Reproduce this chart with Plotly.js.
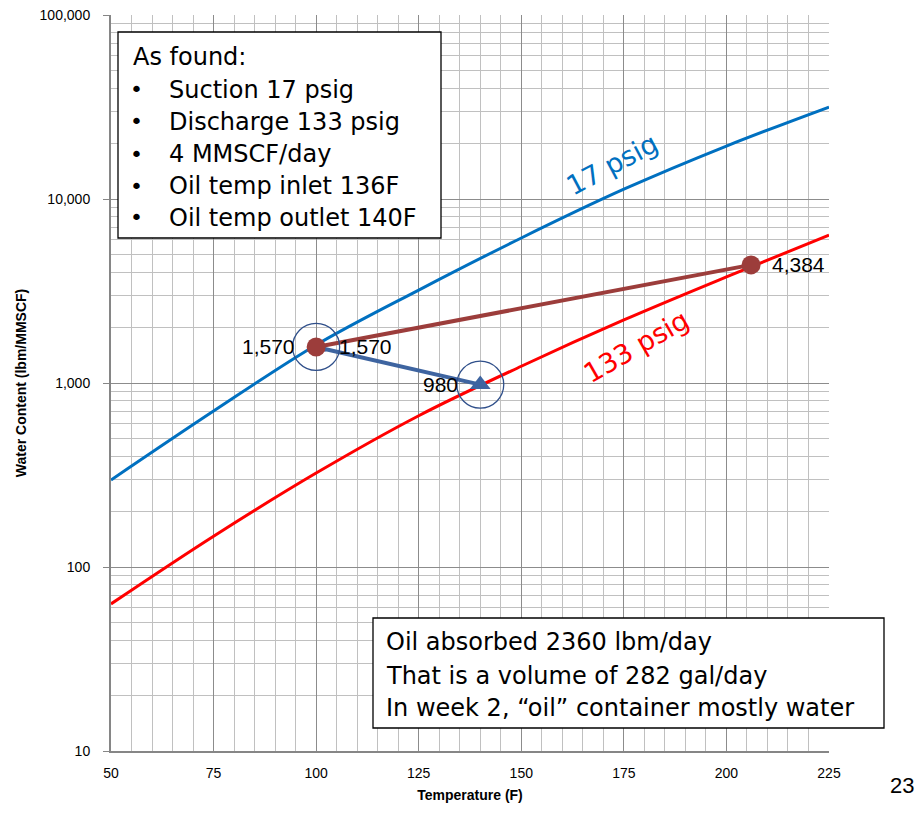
<!DOCTYPE html>
<html>
<head>
<meta charset="utf-8">
<script src="https://cdn.plot.ly/plotly-3.0.1.min.js"></script>
<style>html,body{margin:0;padding:0;background:#fff;}#chart{width:921px;height:813px;}</style>
</head>
<body>
<div id="chart"></div>
<script>
// ---- data ----
const temps = [50, 75, 100, 125, 150, 175, 200, 225];
const water17psig = [297, 704, 1610, 3200, 6140, 11300, 19400, 31600];
const water133psig = [63, 147, 324, 664, 1233, 2200, 3770, 6370];
const gasX = [100, 206];
const gasY = [1570, 4384];
const gasLabels = ['1,570', '4,384'];
const oilX = [100, 140];
const oilY = [1570, 980];
const oilLabels = ['1,570', '980'];
const box1Lines = ['As found:', 'Suction 17 psig', 'Discharge 133 psig', '4 MMSCF/day', 'Oil temp inlet 136F', 'Oil temp outlet 140F'];
const box2Lines = ['Oil absorbed 2360 lbm/day', 'That is a volume of 282 gal/day', 'In week 2, \u201Coil\u201D container mostly water'];
const curveLabels = ['17 psig', '133 psig'];
const pageNumber = '23';

// ---- layout helpers (pixel -> paper) ----
const L = 111, R = 829, T = 15, B = 751;
const px = v => (v - L) / (R - L);
const py = v => (B - v) / (B - T);

const boxFont = {family: 'DejaVu Sans', size: 24, color: '#000'};
const labelFont = {family: 'Liberation Sans', size: 21, color: '#000'};
const annotations = [];
// data labels (log axis -> annotation y in log10 units)
const addLabel = (x, y, t, side, shift) => annotations.push({
  xref:'x', yref:'y', x: x, y: Math.log10(y), text: t, showarrow:false,
  xanchor: side, yanchor:'middle', xshift: shift, font: labelFont
});
addLabel(gasX[0], gasY[0], gasLabels[0], 'right', -19);
addLabel(gasX[1], gasY[1], gasLabels[1], 'left', 19);
addLabel(oilX[0], oilY[0], oilLabels[0], 'left', 21);
addLabel(oilX[1], oilY[1], oilLabels[1], 'right', -20);

// box 1 text
annotations.push({xref:'paper', yref:'paper', x: px(131), y: py(57), xanchor:'left', yanchor:'middle', text: box1Lines[0], showarrow:false, font: boxFont});
const b1y = [90, 122, 154, 186, 218];
box1Lines.slice(1).forEach((t, i) => {
  annotations.push({xref:'paper', yref:'paper', x: px(136), y: py(b1y[i]), xanchor:'center', yanchor:'middle', text:'\u2022', showarrow:false, font: {family:'DejaVu Sans', size: 22, color:'#000'}});
  annotations.push({xref:'paper', yref:'paper', x: px(167), y: py(b1y[i]), xanchor:'left', yanchor:'middle', text: t, showarrow:false, font: boxFont});
});
const b2y = [642, 676, 708];
box2Lines.forEach((t, i) => {
  annotations.push({xref:'paper', yref:'paper', x: px(384), y: py(b2y[i]), xanchor:'left', yanchor:'middle', text: t, showarrow:false, font: boxFont});
});
annotations.push({xref:'paper', yref:'paper', x: px(612), y: py(165), xanchor:'center', yanchor:'middle', text: curveLabels[0], textangle: -28, showarrow:false, font:{family:'DejaVu Sans', size:27, color:'#0070C0'}});
annotations.push({xref:'paper', yref:'paper', x: px(636), y: py(346), xanchor:'center', yanchor:'middle', text: curveLabels[1], textangle: -30, showarrow:false, font:{family:'DejaVu Sans', size:27, color:'#FF0000'}});
annotations.push({xref:'paper', yref:'paper', x: px(902), y: py(785), xanchor:'center', yanchor:'middle', text: pageNumber, showarrow:false, font:{family:'Liberation Sans', size:22, color:'#000'}});

const shapes = [
  {type:'rect', xref:'paper', yref:'paper', x0: px(118), x1: px(441), y0: py(238), y1: py(32), line:{color:'#000', width:1.3}, fillcolor:'#fff', layer:'above'},
  {type:'rect', xref:'paper', yref:'paper', x0: px(373), x1: px(884), y0: py(728), y1: py(618), line:{color:'#000', width:1.3}, fillcolor:'#fff', layer:'above'}
];

const traces = [
  {x: temps, y: water17psig, mode:'lines', line:{color:'#0070C0', width:3, shape:'spline'}, hoverinfo:'skip'},
  {x: temps, y: water133psig, mode:'lines', line:{color:'#FF0000', width:3, shape:'spline'}, hoverinfo:'skip'},
  {x: oilX, y: oilY, mode:'lines+markers', line:{color:'#3E64A0', width:4},
   marker:{symbol:'triangle-up', size:18, color:'#3E64A0'}, cliponaxis:false},
  {x: gasX, y: gasY, mode:'lines+markers', line:{color:'#9C3D3B', width:4},
   marker:{symbol:'circle', size:19, color:'#9C3D3B'}, cliponaxis:false},
  {x: oilX, y: oilY, mode:'markers', marker:{symbol:'circle-open', size:47, color:'#2F4F8A', line:{width:1.3}}, hoverinfo:'skip'}
];

const layout = {
  width: 921, height: 813,
  margin: {l: L, r: 921 - R, t: T, b: 813 - B},
  paper_bgcolor:'#fff', plot_bgcolor:'#fff',
  showlegend:false, hovermode:false,
  font:{family:'Liberation Sans', color:'#000'},
  xaxis: {
    range:[50,225], tick0:50, dtick:25,
    showgrid:true, gridcolor:'#8c8c8c', gridwidth:1,
    minor:{dtick:5, showgrid:true, gridcolor:'#c0c0c0', gridwidth:1},
    showline:true, linecolor:'#868686', linewidth:2,
    ticks:'', zeroline:false, ticklabelstandoff: 8,
    tickfont:{family:'Liberation Sans', size:14, color:'#000'},
    title:{text:'<b>Temperature (F)</b>', font:{family:'Liberation Sans', size:14, color:'#000'}, standoff:10}
  },
  yaxis: {
    type:'log', range:[1,5], dtick:1, tickformat:',d',
    showgrid:true, gridcolor:'#8c8c8c', gridwidth:1,
    minor:{dtick:'D1', showgrid:true, gridcolor:'#c0c0c0', gridwidth:1},
    showline:true, linecolor:'#868686', linewidth:2,
    ticks:'outside', ticklen:6, tickcolor:'#868686', zeroline:false, ticklabelstandoff: 10,
    tickfont:{family:'Liberation Sans', size:14, color:'#000'},
    title:{text:'<b>Water Content (lbm/MMSCF)</b>', font:{family:'Liberation Sans', size:14, color:'#000'}, standoff:10}
  },
  shapes: shapes,
  annotations: annotations
};

Plotly.newPlot('chart', traces, layout, {displayModeBar:false, staticPlot:true});
</script>
</body>
</html>
